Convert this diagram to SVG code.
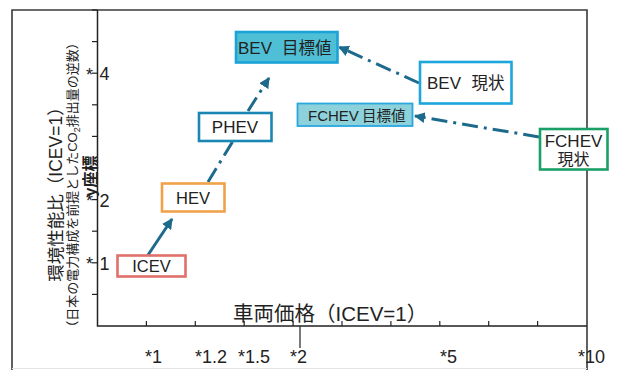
<svg xmlns="http://www.w3.org/2000/svg" width="617" height="370" viewBox="0 0 617 370">
<style>
text{font-family:"Liberation Sans","Noto Sans CJK JP",sans-serif;fill:#222}
.frame{stroke:#3a3a3a;stroke-width:1.6;fill:none}
.axis{stroke:#222;stroke-width:1.5;fill:none}
.tick{stroke:#222;stroke-width:1.2}
.conn{stroke:#1d6a8c;stroke-width:3;fill:none}
.dd{stroke-dasharray:16 6 3 6}
.tl{font-size:18px}
.nt{text-anchor:middle}
</style>
<defs>
<marker id="ah" viewBox="0 0 10 10" refX="9" refY="5" markerWidth="3.6" markerHeight="3.6" orient="auto" markerUnits="strokeWidth">
<path d="M0,0 L10,5 L0,10 Z" fill="#1d6a8c"/>
</marker>
</defs>
<rect width="617" height="370" fill="#fff"/>
<g id="frame">
<path class="frame" d="M12,370 V10 H587 V370"/>
<line x1="12" y1="368.5" x2="587" y2="368.5" stroke="#e4e4e4" stroke-width="1"/>
</g>
<g id="axes">
<path class="axis" d="M97.5,10 V326 H587"/>
<g class="tick">
<line x1="92" y1="10" x2="97.5" y2="10"/>
<line x1="92" y1="41.6" x2="97.5" y2="41.6"/>
<line x1="92" y1="73.2" x2="97.5" y2="73.2"/>
<line x1="92" y1="104.8" x2="97.5" y2="104.8"/>
<line x1="92" y1="136.4" x2="97.5" y2="136.4"/>
<line x1="92" y1="168" x2="97.5" y2="168"/>
<line x1="92" y1="199.6" x2="97.5" y2="199.6"/>
<line x1="92" y1="231.2" x2="97.5" y2="231.2"/>
<line x1="92" y1="262.8" x2="97.5" y2="262.8"/>
<line x1="92" y1="294.4" x2="97.5" y2="294.4"/>
<line x1="146.4" y1="321" x2="146.4" y2="326"/>
<line x1="195.3" y1="321" x2="195.3" y2="326"/>
<line x1="244.2" y1="321" x2="244.2" y2="326"/>
<line x1="293.1" y1="321" x2="293.1" y2="326"/>
<line x1="342" y1="321" x2="342" y2="326"/>
<line x1="390.9" y1="321" x2="390.9" y2="326"/>
<line x1="439.8" y1="321" x2="439.8" y2="326"/>
<line x1="488.7" y1="321" x2="488.7" y2="326"/>
<line x1="537.6" y1="321" x2="537.6" y2="326"/>
<line x1="300" y1="326" x2="300" y2="348"/>
</g>
<text class="tl" x="86" y="81">*</text><text class="tl" x="99.5" y="80">4</text>
<text class="tl" x="86" y="207">*</text><text class="tl" x="99.5" y="207">2</text>
<text class="tl" x="86" y="270">*</text><text class="tl" x="99.5" y="270">1</text>
<text class="tl" x="145" y="363">*1</text>
<text class="tl" x="195" y="363">*1.2</text>
<text class="tl" x="238" y="363">*1.5</text>
<text class="tl" x="290" y="363">*2</text>
<text class="tl" x="440" y="363">*5</text>
<text class="tl" x="578" y="363">*10</text>
<text x="233" y="321" font-size="20.5">車両価格（ICEV=1）</text>
<text x="0" y="0" font-size="17.5" text-anchor="middle" transform="translate(62,190) rotate(-90)">環境性能比（ICEV=1）</text>
<text x="0" y="0" font-size="13" text-anchor="middle" transform="translate(76.5,185) rotate(-90)">（日本の電力構成を前提としたCO<tspan font-size="9" dy="3">2</tspan><tspan dy="-3">排出量の逆数）</tspan></text>
<text x="0" y="0" font-size="16" font-weight="bold" text-anchor="middle" transform="translate(95.5,176) rotate(-90)">y座標</text>
</g>
<g id="connectors">
<line class="conn" x1="148" y1="255" x2="172" y2="219" marker-end="url(#ah)"/>
<line class="conn dd" x1="208" y1="182" x2="233" y2="141"/>
<line class="conn dd" x1="248" y1="111" x2="269" y2="78" marker-end="url(#ah)"/>
<line class="conn dd" x1="419" y1="83" x2="339" y2="47" marker-end="url(#ah)"/>
<line class="conn dd" x1="539" y1="137" x2="415" y2="116" marker-end="url(#ah)"/>
</g>
<g id="ICEV">
<rect x="117.5" y="255.5" width="68" height="21" fill="#fff" stroke="#e0706a" stroke-width="2.6"/>
<text class="nt" x="151.5" y="272" font-size="16.5">ICEV</text>
</g>
<g id="HEV">
<rect x="162" y="183.5" width="62.5" height="28" fill="#fff" stroke="#f0a24a" stroke-width="2.6"/>
<text class="nt" x="193" y="203.5" font-size="16.5">HEV</text>
</g>
<g id="PHEV">
<rect x="199" y="113" width="72.5" height="28" fill="#fff" stroke="#1a86b4" stroke-width="2.6"/>
<text class="nt" x="235" y="133" font-size="17">PHEV</text>
</g>
<g id="BEV_target">
<rect x="236" y="32" width="101.5" height="30.5" fill="#4fbfd6" stroke="#1ba3d8" stroke-width="2.6"/>
<text x="238" y="53.5" font-size="17">BEV</text>
<text x="282" y="53.5" font-size="16.5">目標値</text>
</g>
<g id="FCHEV_target">
<rect x="297.5" y="103.5" width="115" height="22.5" fill="#8dd2da" stroke="#2aa7de" stroke-width="1.8"/>
<text x="308" y="121" font-size="15">FCHEV</text>
<text x="362" y="121" font-size="14.5">目標値</text>
</g>
<g id="BEV_now">
<rect x="420" y="62" width="91.5" height="41.5" fill="#fff" stroke="#1ca6dc" stroke-width="2.6"/>
<text x="427" y="89" font-size="17">BEV</text>
<text x="471.5" y="89" font-size="16.5">現状</text>
</g>
<g id="FCHEV_now">
<rect x="540" y="129" width="67.5" height="40.5" fill="#fff" stroke="#1aa066" stroke-width="2.6"/>
<text class="nt" x="573.5" y="147" font-size="17">FCHEV</text>
<text class="nt" x="573.5" y="165" font-size="16">現状</text>
</g>
</svg>
